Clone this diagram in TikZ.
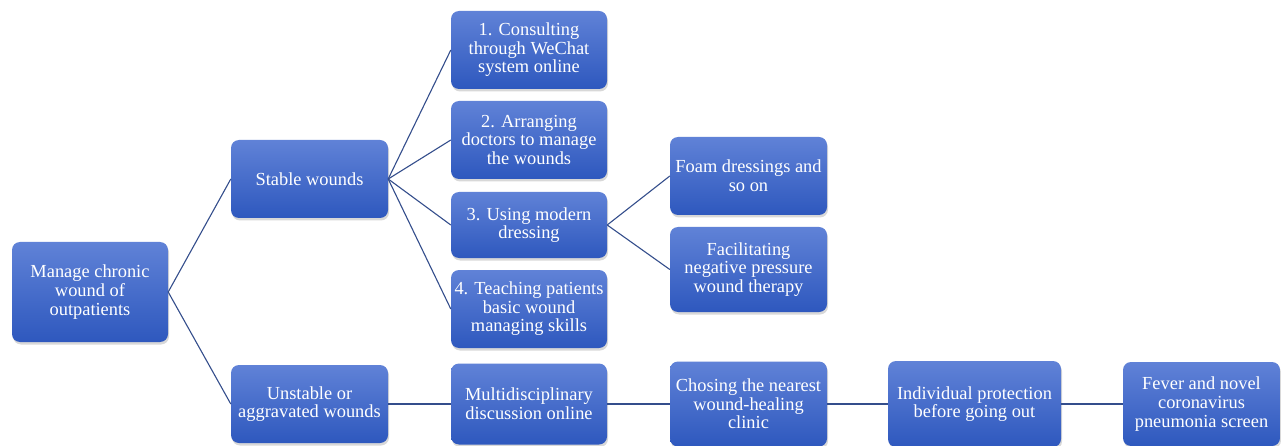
\documentclass[tikz,border=0pt]{standalone}
\usepackage{fontspec}
\setmainfont{Liberation Serif}
\usetikzlibrary{shadows}
\definecolor{boxtop}{RGB}{96,130,215}
\definecolor{boxbot}{RGB}{46,88,190}
\definecolor{linkcol}{RGB}{52,78,140}
\tikzset{
  box/.style={rounded corners=8pt, top color=boxtop, bottom color=boxbot,
    draw=none, text=white, align=center, inner sep=2pt,
    font=\fontsize{18.4}{18.6}\selectfont,
    drop shadow={opacity=0.3, shadow xshift=1pt, shadow yshift=-2.5pt}},
  link/.style={draw=linkcol, line width=1.1pt}
}
\begin{document}
\begin{tikzpicture}[x=1pt, y=-1pt]
\useasboundingbox (0,0) rectangle (1281,446);
\fill[white] (0,0) rectangle (1281,446);

% root and first level
\node[box, minimum width=156pt, minimum height=100pt] (root) at (90,292)
  {Manage chronic\\wound of\\outpatients};
\node[box, minimum width=157pt, minimum height=78pt] (stable) at (309.5,179)
  {Stable wounds};
\node[box, minimum width=157pt, minimum height=78pt] (unstable) at (309.5,404)
  {Unstable or\\aggravated wounds};

% stable branch
\node[box, minimum width=156pt, minimum height=78pt] (s1) at (529,50)
  {1. Consulting\\through WeChat\\system online};
\node[box, minimum width=156pt, minimum height=78pt] (s2) at (529,140)
  {2. Arranging\\doctors to manage\\the wounds};
\node[box, minimum width=156pt, minimum height=66pt] (s3) at (529,225)
  {3. Using modern\\dressing};
\node[box, minimum width=156pt, minimum height=78pt] (s4) at (529,309)
  {4. Teaching patients\\basic wound\\managing skills};
\node[box, minimum width=157pt, minimum height=78pt] (foam) at (748.5,176)
  {Foam dressings and\\so on};
\node[box, minimum width=157pt, minimum height=85pt] (npwt) at (748.5,269.5)
  {Facilitating\\negative pressure\\wound therapy};

% unstable chain
\node[box, minimum width=156pt, minimum height=81pt] (multi) at (529,404)
  {Multidisciplinary\\discussion online};
\node[box, minimum width=157pt, minimum height=85pt] (clinic) at (748.5,404)
  {Chosing the nearest\\wound-healing\\clinic};
\node[box, minimum width=173pt, minimum height=86pt] (protect) at (974.5,404)
  {Individual protection\\before going out};
\node[box, minimum width=157pt, minimum height=84pt] (screen) at (1201.5,404)
  {Fever and novel\\coronavirus\\pneumonia screen};

% connectors
\path[link] (root.east) -- (stable.west);
\path[link] (root.east) -- (unstable.west);
\foreach \t in {s1,s2,s3,s4} \path[link] (stable.east) -- (\t.west);
\path[link] (s3.east) -- (foam.west);
\path[link] (s3.east) -- (npwt.west);
\path[link] (unstable.east) -- (multi.west);
\path[link] (multi.east) -- (clinic.west);
\path[link] (clinic.east) -- (protect.west);
\path[link] (protect.east) -- (screen.west);
\end{tikzpicture}
\end{document}
